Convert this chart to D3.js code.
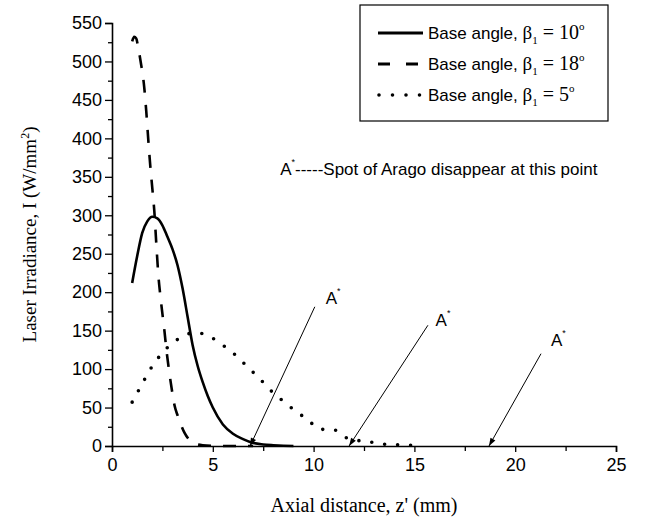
<!DOCTYPE html>
<html><head><meta charset="utf-8">
<script src="https://cdn.jsdelivr.net/npm/d3@7/dist/d3.min.js"></script>
<style>body{margin:0;background:#fff}</style>
</head><body>
<svg id="c" width="657" height="521"></svg>
<script>
// ---- data ----
const beta10Z = [1.0,1.25,1.5,1.75,2.0,2.25,2.5,2.75,3.0,3.25,3.5,3.75,4.0,4.25,4.5,4.75,5.0,5.5,6.0,6.5,7.0,7.5,8.0,8.5,9.0];
const beta10I = [212,247,277,292,298,296,287,272,256,235,205,168,131,104,83,65,50,28,16,9,4,2,1,0.3,0];
const beta18Z = [1.0,1.1,1.2,1.3,1.42,1.6,1.7,1.8,1.9,2.0,2.1,2.2,2.3,2.4,2.5,2.6,2.7,2.8,2.9,3.0,3.1,3.25,3.4,3.6,3.8,4.0,4.5,5.0,6.0,7.0];
const beta18I = [526,532,530,518,500,466,435,398,364,335,305,262,222,195,172,150,125,104,85,68,53,40,29,17,9,4,1,0.3,0,0];
const beta5Z = [1.0,1.5,2.0,2.5,3.0,3.5,3.9,4.3,4.6,5.0,5.34,6.05,6.72,7.38,8.04,8.37,9.07,9.77,10.26,11.03,11.44,12.02,12.74,13.4,14.1,14.8,15.0];
const beta5I = [57,81,104,121,134,142,146.5,147,145,140,134,120,103,86,68,61,46,33,22,21,13,8,5.6,2.6,1.7,1.0,0.5];

const xTickValues = [0,5,10,15,20,25];
const xMinorValues = [2.5,7.5,12.5,17.5,22.5];
const yTickValues = [0,50,100,150,200,250,300,350,400,450,500,550];
const yMinorValues = [25,75,125,175,225,275,325,375,425,475,525];

const legendAngles = ["10","18","5"];

const arrowTipZ = [6.85,11.76,18.70];
const arrowTailZ = [10.06,15.67,21.28];
const arrowTailI = [181,157,120];
const labelZ = [10.6,16.05,21.77];
const labelI = [184,156,130];
const noteZ = 8.34, noteI = 353;
const noteText = "-----Spot of Arago disappear at this point";

// ---- chart ----
const svg = d3.select("#c");
const x = d3.scaleLinear().domain([0,25]).range([112,616]);
const y = d3.scaleLinear().domain([0,550]).range([446,23]);
const SANS = "'Liberation Sans', Arial, sans-serif";
const SERIF = "'Liberation Serif', 'Times New Roman', serif";

svg.append("defs").append("marker")
  .attr("id","ah").attr("viewBox","0 0 10 10").attr("refX",10).attr("refY",5)
  .attr("markerWidth",9).attr("markerHeight",8).attr("markerUnits","userSpaceOnUse")
  .attr("orient","auto")
  .append("path").attr("d","M0,1.5 L10,5 L0,8.5 Z").attr("fill","#000");

// axes
svg.append("g").attr("transform",`translate(0,${y(0)})`)
  .call(d3.axisBottom(x).tickValues(xTickValues).tickSize(6).tickPadding(6).tickFormat(d3.format("d")));
svg.append("g").attr("transform",`translate(0,${y(0)})`)
  .call(d3.axisBottom(x).tickValues(xMinorValues).tickSize(5).tickFormat(""))
  .select(".domain").remove();
svg.append("g").attr("transform",`translate(${x(0)},0)`)
  .call(d3.axisLeft(y).tickValues(yTickValues).tickSize(7).tickPadding(3).tickFormat(d3.format("d")));
svg.append("g").attr("transform",`translate(${x(0)},0)`)
  .call(d3.axisLeft(y).tickValues(yMinorValues).tickSize(4).tickFormat(""))
  .select(".domain").remove();
svg.selectAll(".domain").attr("stroke","#000").attr("stroke-width",1.6);
svg.selectAll(".tick line").attr("stroke","#000").attr("stroke-width",1.3);
svg.selectAll(".tick text").attr("font-family",SANS).attr("font-size",18).attr("fill","#000");

// axis titles
svg.append("text").attr("x",(x(0)+x(25))/2).attr("y",512).attr("text-anchor","middle")
  .attr("font-family",SERIF).attr("font-size",20).text("Axial distance, z' (mm)");
const yt = svg.append("text").attr("transform",`translate(36,${(y(0)+y(550))/2}) rotate(-90)`)
  .attr("text-anchor","middle").attr("font-family",SERIF).attr("font-size",19);
yt.append("tspan").text("Laser Irradiance, I (W/mm");
yt.append("tspan").attr("dy",-7).attr("font-size",12).text("2");
yt.append("tspan").attr("dy",7).text(")");

// curves
const line = d3.line().x(d=>x(d[0])).y(d=>y(d[1])).curve(d3.curveMonotoneX);
const series = [
  {z:beta10Z, v:beta10I, dash:null, w:2.6, cap:"butt"},
  {z:beta18Z, v:beta18I, dash:"13,12", w:2.6, cap:"butt"},
  {z:beta5Z, v:beta5I, dash:"0,13", w:3.6, cap:"round"}
];
series.forEach(s=>{
  svg.append("path").datum(s.z.map((d,i)=>[d,s.v[i]]))
    .attr("d",line).attr("fill","none").attr("stroke","#000")
    .attr("stroke-width",s.w).attr("stroke-linecap",s.cap)
    .attr("stroke-dasharray",s.dash);
});

// annotations
arrowTipZ.forEach((t,i)=>{
  svg.append("line").attr("x1",x(arrowTailZ[i])).attr("y1",y(arrowTailI[i]))
    .attr("x2",x(t)).attr("y2",y(0)).attr("stroke","#000").attr("stroke-width",1)
    .attr("marker-end","url(#ah)");
  const lt = svg.append("text").attr("x",x(labelZ[i])).attr("y",y(labelI[i]))
    .attr("font-family",SANS).attr("font-size",17);
  lt.append("tspan").text("A");
  lt.append("tspan").attr("dy",-10).attr("font-size",9).text("*");
});
const nt = svg.append("text").attr("x",x(noteZ)).attr("y",y(noteI))
  .attr("font-family",SANS).attr("font-size",17);
nt.append("tspan").text("A");
nt.append("tspan").attr("dy",-10).attr("font-size",9).text("*");
nt.append("tspan").attr("dy",10).text(noteText);

// legend
const lg = svg.append("g");
lg.append("rect").attr("x",360).attr("y",5).attr("width",248).attr("height",116)
  .attr("fill","#fff").attr("stroke","#000").attr("stroke-width",1.2);
legendAngles.forEach((a,i)=>{
  const cy = 33 + i*31;
  lg.append("line").attr("x1",378).attr("x2",423).attr("y1",cy).attr("y2",cy)
    .attr("stroke","#000").attr("stroke-width",i===2?3.6:2.8)
    .attr("stroke-linecap",i===2?"round":"butt")
    .attr("stroke-dasharray",i===0?null:(i===1?"12,16":"0,13.5"))
    .attr("stroke-dashoffset",i===2?-1:0);
  const t = lg.append("text").attr("x",428).attr("y",cy+6).attr("font-family",SANS).attr("font-size",17);
  t.append("tspan").text("Base angle, ");
  t.append("tspan").attr("font-family",SERIF).attr("font-size",19).text("\u03B2");
  t.append("tspan").attr("font-family",SERIF).attr("font-size",11).attr("dy",5).text("1");
  t.append("tspan").attr("font-family",SERIF).attr("font-size",20).attr("dy",-5).text(" = " + a);
  t.append("tspan").attr("font-family",SERIF).attr("font-size",11).attr("dy",-9).text("o");
});
</script>
</body></html>
